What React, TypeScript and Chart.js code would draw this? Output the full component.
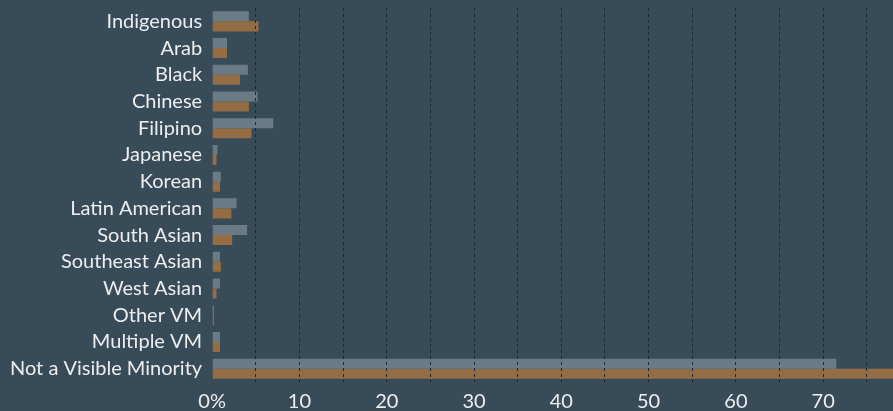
import React, { useEffect, useRef } from "react";
import { Chart, registerables } from "chart.js";

Chart.register(...registerables);

const categories = [
  "Indigenous",
  "Arab",
  "Black",
  "Chinese",
  "Filipino",
  "Japanese",
  "Korean",
  "Latin American",
  "South Asian",
  "Southeast Asian",
  "West Asian",
  "Other VM",
  "Multiple VM",
  "Not a Visible Minority",
];

const seriesGray = [4.2, 1.7, 4.1, 5.2, 7.0, 0.6, 1.0, 2.8, 4.0, 0.9, 0.9, 0.2, 0.9, 71.5];
const seriesOrange = [5.3, 1.7, 3.2, 4.2, 4.5, 0.5, 0.9, 2.2, 2.3, 1.0, 0.5, 0.2, 0.9, 78];

const xMax = 78;
const tickStep = 5;

const BG = "#384b59";
const TEXT = "#eceeef";

export default function App() {
  const ref = useRef<HTMLCanvasElement | null>(null);

  useEffect(() => {
    document.body.style.margin = "0";
    document.body.style.background = BG;
    const canvas = ref.current;
    if (!canvas) return;
    const chart = new Chart(canvas, {
      type: "bar",
      data: {
        labels: categories,
        datasets: [
          {
            label: "A",
            data: seriesGray,
            backgroundColor: "#6a7b85",
            borderWidth: 0,
            barPercentage: 1,
            categoryPercentage: 0.75,
          },
          {
            label: "B",
            data: seriesOrange,
            backgroundColor: "#946d45",
            borderWidth: 0,
            barPercentage: 1,
            categoryPercentage: 0.75,
          },
        ],
      },
      options: {
        indexAxis: "y",
        animation: false,
        responsive: false,
        maintainAspectRatio: false,
        layout: { padding: { top: 8, right: 0, left: 0, bottom: 0 } },
        plugins: {
          legend: { display: false },
          tooltip: { enabled: false },
        },
        scales: {
          x: {
            min: 0,
            max: xMax,
            afterBuildTicks: (axis: any) => {
              const t: any[] = [];
              for (let v = 0; v <= xMax; v += tickStep) t.push({ value: v });
              axis.ticks = t;
            },
            afterFit: (scale: any) => {
              scale.paddingRight = 0;
              scale.height = 29;
            },
            border: { display: false, dash: [3, 3] },
            grid: {
              z: 1,
              drawTicks: false,
              lineWidth: 1,
              color: (ctx: any) =>
                ctx.tick && ctx.tick.value === 0 ? "rgba(0,0,0,0)" : "#1b2832",
            },
            ticks: {
              color: TEXT,
              padding: 8,
              font: { family: "Lato", size: 20 },
              maxRotation: 0,
              autoSkip: false,
              callback: (value: any) => {
                const v = Number(value);
                if (v === 0) return "0%";
                return v % 10 === 0 ? String(v) : "";
              },
            },
          },
          y: {
            afterFit: (scale: any) => {
              scale.paddingTop = 0;
              scale.paddingBottom = 0;
            },
            border: { display: false },
            grid: { display: false, drawTicks: false },
            ticks: {
              color: TEXT,
              padding: 10,
              font: { family: "Lato", size: 20 },
              autoSkip: false,
            },
          },
        },
      },
    });
    return () => chart.destroy();
  }, []);

  return (
    <div style={{ position: "fixed", left: 0, top: 0, width: 893, height: 411, background: BG }}>
      <canvas ref={ref} width={893} height={411} style={{ display: "block" }} />
    </div>
  );
}
